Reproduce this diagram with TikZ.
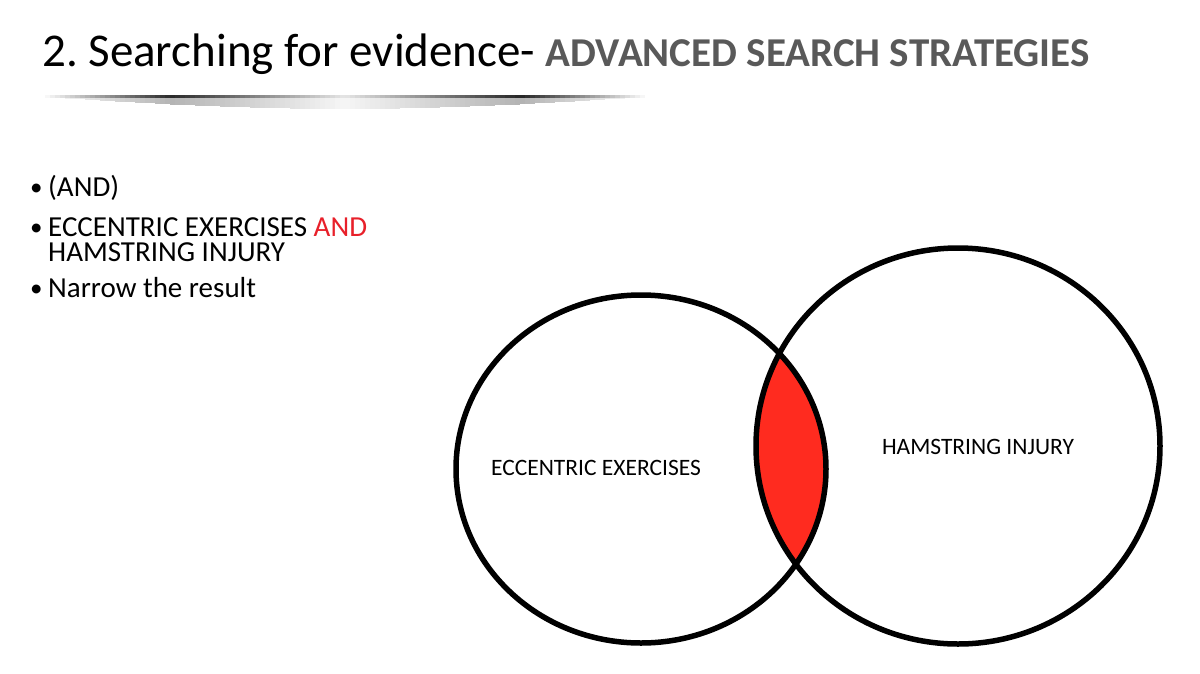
\documentclass[tikz,border=0pt]{standalone}
\usepackage{fontspec}
\setmainfont{Carlito}
\usetikzlibrary{shapes.geometric}
\definecolor{titlegray}{HTML}{595959}
\definecolor{andred}{HTML}{E8202A}
\definecolor{lensred}{HTML}{FF2B1F}
\tikzset{
  setcircle/.style={ellipse, draw=black, line width=5.5pt, inner sep=0pt},
  bul/.style={anchor=base west, inner sep=0pt, font=\fontsize{29}{24}\selectfont},
  dot/.style={anchor=base west, inner sep=0pt, font=\fontsize{25}{24}\selectfont},
  lbl/.style={anchor=base, inner sep=0pt, font=\fontsize{23.5}{26}\selectfont},
}
\frenchspacing
\begin{document}
\begin{tikzpicture}[x=1pt,y=-1pt]
\useasboundingbox (0,0) rectangle (1200,673);
\fill[white] (0,0) rectangle (1200,673);

% title
\node[anchor=base west, inner sep=0pt] (title) at (42,66)
  {\fontsize{47}{50}\selectfont 2. Searching for evidence- {\color{titlegray}\bfseries\fontsize{41}{45}\selectfont ADVANCED SEARCH STRATEGIES}};

% shaded rule under the title (drawn as thin strips)
\foreach \i in {0,...,120} {
  \pgfmathsetmacro{\xx}{40+5*\i}
  \pgfmathsetmacro{\dd}{max(0,min((85/130)*(\xx-40), (85/125)*(645-\xx), 10+(75/175)*abs(\xx-342)))}
  \pgfmathsetmacro{\hh}{2+12*sin(180*((\xx-40)/605))}
  \pgfmathsetmacro{\ss}{0.35*\dd}
  \fill[black!\ss] (\xx-0.2,97) rectangle (\xx+5.2,95+\hh);
  \fill[black!\dd] (\xx-0.2,95) rectangle (\xx+5.2,97.5);
}

% bullets
\node[dot] (b1) at (30,195) {•};
\node[bul] (t1) at (48,196) {(AND)};
\node[dot] (b2) at (30,235) {•};
\node[bul] (t2a) at (48,236) {ECCENTRIC EXERCISES {\color{andred}AND}};
\node[bul] (t2b) at (48,261) {HAMSTRING INJURY};
\node[dot] (b3) at (30,296) {•};
\node[bul] (t3) at (48,297) {Narrow the result};

% Venn diagram
\coordinate (lc) at (641,469);
\coordinate (rc) at (958,446);
\begin{scope}
  \clip (lc) ellipse [x radius=185, y radius=174];
  \fill[lensred] (rc) ellipse [x radius=202, y radius=198];
\end{scope}
\node[setcircle, minimum width=370pt, minimum height=348pt] (left) at (lc) {};
\node[setcircle, minimum width=404pt, minimum height=396pt] (right) at (rc) {};

\node[lbl] (leftlbl) at (596,475) {ECCENTRIC EXERCISES};
\node[lbl] (rightlbl) at (978,454) {HAMSTRING INJURY};
\end{tikzpicture}
\end{document}
